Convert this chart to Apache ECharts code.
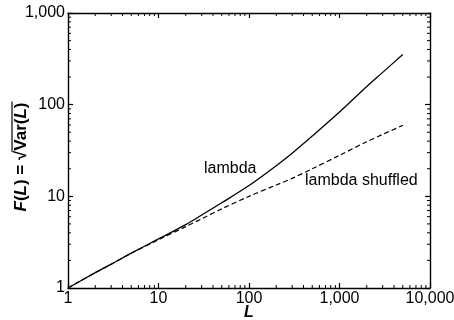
<!DOCTYPE html>
<html>
<head>
<meta charset="utf-8">
<script src="https://cdn.jsdelivr.net/npm/echarts@6/dist/echarts.min.js"></script>
<style>
  html, body { margin: 0; padding: 0; background: #fff; }
  #chart { width: 454px; height: 320px; }
</style>
</head>
<body>
<div id="chart"></div>
<script>
// data
var lengths = [1, 2, 3, 5, 10, 20, 30, 50, 100, 200, 300, 500, 1000, 2000, 3000, 5000];
var lambdaF = [1, 1.47, 1.82, 2.40, 3.43, 4.92, 6.25, 8.5, 13.1, 21.6, 29.5, 45.4, 83, 158, 225, 353];
var shuffledF = [1, 1.47, 1.82, 2.39, 3.36, 4.67, 5.69, 7.3, 10, 13.3, 15.7, 20, 28, 39.4, 47.4, 59.4];
var xTicks = [1, 10, 100, 1000, 10000];
var yTicks = [1, 10, 100, 1000];

var FONT = '"Liberation Sans", Arial, sans-serif';

function minors(ticks) {
  var out = [];
  for (var i = 0; i < ticks.length - 1; i++) {
    for (var k = 2; k <= 9; k++) out.push(ticks[i] * k);
  }
  return out;
}

function pairs(xs, ys) {
  return xs.map(function (x, i) { return [x, ys[i]]; });
}

var xMin = xTicks[0], xMax = xTicks[xTicks.length - 1];
var yMin = yTicks[0], yMax = yTicks[yTicks.length - 1];

var MINOR = 3;
function tickLine(x1, y1, x2, y2) {
  return { type: 'line', shape: { x1: x1, y1: y1, x2: x2, y2: y2 }, style: { stroke: '#000', lineWidth: 1 } };
}

// minor ticks on all four sides, placed through the axes
function minorTicks(dir) {
  var vals = dir === 'x' ? minors(xTicks) : minors(yTicks);
  return {
    type: 'custom',
    silent: true,
    clip: false,
    z: 5,
    data: vals.map(function (v) { return dir === 'x' ? [v, yMin] : [xMin, v]; }),
    renderItem: function (params, api) {
      var a, b;
      if (dir === 'x') {
        a = api.coord([api.value(0), yMin]);
        b = api.coord([api.value(0), yMax]);
        return { type: 'group', children: [
          tickLine(a[0], a[1], a[0], a[1] - MINOR),
          tickLine(b[0], b[1], b[0], b[1] + MINOR)
        ]};
      }
      a = api.coord([xMin, api.value(1)]);
      b = api.coord([xMax, api.value(1)]);
      return { type: 'group', children: [
        tickLine(a[0], a[1], a[0] + MINOR, a[1]),
        tickLine(b[0], b[1], b[0] - MINOR, b[1])
      ]};
    }
  };
}

// y axis title: F(L) = sqrt(Var(L)) with an overline
var ctx = document.createElement('canvas').getContext('2d');
var titleParts = [['F', 1], ['(', 0], ['L', 1], [') = ', 0], ['\u221A', 0], ['Var(', 0], ['L', 1], [')', 0]];
function partFont(it) { return (it ? 'italic ' : '') + 'bold 17px ' + FONT; }
var widths = titleParts.map(function (p) { ctx.font = partFont(p[1]); return ctx.measureText(p[0]).width; });
var total = widths.reduce(function (s, w) { return s + w; }, 0);
var cx = -total / 2, titleChildren = [], barStart = 0;
titleParts.forEach(function (p, i) {
  if (i === 5) barStart = cx - 1;
  titleChildren.push({
    type: 'text', x: cx, y: 0,
    style: { text: p[0], font: partFont(p[1]), fill: '#000', align: 'left', verticalAlign: 'middle' }
  });
  cx += widths[i];
});
titleChildren.push({
  type: 'line',
  shape: { x1: barStart, y1: -9, x2: cx + 1, y2: -9 },
  style: { stroke: '#000', lineWidth: 1.2 }
});

var axisBase = {
  type: 'log',
  logBase: 10,
  axisLine: { show: true, lineStyle: { color: '#000', width: 1.4 } },
  axisTick: { show: true, inside: true, length: 5, lineStyle: { color: '#000', width: 1.2 } },
  splitLine: { show: false },
  minorTick: { show: false }
};

function fmt(v) { return Number(v).toLocaleString('en-US'); }

var chart = echarts.init(document.getElementById('chart'), null, { renderer: 'canvas' });
chart.setOption({
  backgroundColor: '#fff',
  animation: false,
  grid: { left: 68, right: 24, top: 13, bottom: 32, containLabel: false, outerBoundsMode: 'none' },
  xAxis: [
    Object.assign({}, axisBase, {
      position: 'bottom', min: xMin, max: xMax,
      axisLabel: { color: '#000', fontFamily: FONT, fontSize: 16, margin: 3, formatter: fmt },
      name: 'L', nameLocation: 'middle', nameGap: 17, nameMoveOverlap: false,
      nameTextStyle: { color: '#000', fontFamily: FONT, fontSize: 16, fontWeight: 'bold', fontStyle: 'italic' }
    }),
    Object.assign({}, axisBase, {
      position: 'top', min: xMin, max: xMax, axisLabel: { show: false }
    })
  ],
  yAxis: [
    Object.assign({}, axisBase, {
      position: 'left', min: yMin, max: yMax,
      axisLabel: { color: '#000', fontFamily: FONT, fontSize: 16, margin: 3, formatter: fmt }
    }),
    Object.assign({}, axisBase, {
      position: 'right', min: yMin, max: yMax, axisLabel: { show: false }
    })
  ],
  graphic: [
    { type: 'group', x: 21, y: 157, rotation: Math.PI / 2, children: titleChildren },
    { type: 'text', x: 204, y: 169,
      style: { text: 'lambda', font: '16px ' + FONT, fill: '#000', verticalAlign: 'middle' } },
    { type: 'text', x: 305, y: 181,
      style: { text: 'lambda shuffled', font: '16px ' + FONT, fill: '#000', verticalAlign: 'middle' } }
  ],
  series: [
    {
      name: 'lambda', type: 'line', smooth: 0.3, showSymbol: false,
      data: pairs(lengths, lambdaF),
      lineStyle: { color: '#000', width: 1.3 }
    },
    {
      name: 'lambda shuffled', type: 'line', smooth: 0.3, showSymbol: false,
      data: pairs(lengths, shuffledF),
      lineStyle: { color: '#000', width: 1.2, type: [5, 3] }
    },
    minorTicks('x'),
    minorTicks('y')
  ]
});
</script>
</body>
</html>
